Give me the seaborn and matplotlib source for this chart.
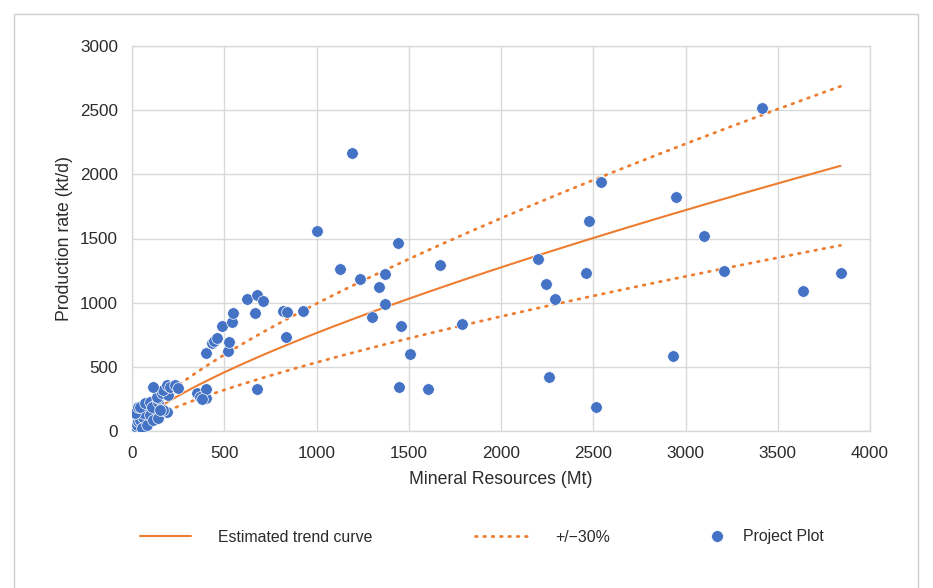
import numpy as np
import pandas as pd
import matplotlib
matplotlib.use("Agg")
import matplotlib.pyplot as plt
from matplotlib.lines import Line2D
from matplotlib.patches import Rectangle
import seaborn as sns

# Project data: mineral resources (Mt) vs production rate (kt/d)
resources_mt = [
    2, 8, 15, 25, 30, 43, 52, 61, 61, 16, 34, 43, 70, 98, 80, 98, 115, 143,
    125, 107, 143, 143, 134, 161, 197, 170, 188, 206, 233, 251, 188, 170, 112, 152,
    350, 369, 401, 401, 380, 401, 432, 444, 459, 486, 519, 528, 540, 549, 622,
    667, 679, 708, 679, 820, 838, 835, 929,
    1000, 1127, 1190, 1236, 1303, 1337, 1371, 1371, 1440, 1445, 1458, 1507, 1606,
    1669, 1790, 2202, 2244, 2262, 2293, 2459, 2479, 2513, 2540,
    2934, 2947, 3102, 3210, 3413, 3635, 3845,
]
production_ktd = [
    5, 20, 40, 47, 80, 86, 21, 112, 140, 138, 189, 189, 215, 228, 47, 125, 86, 99,
    202, 189, 228, 254, 267, 293, 280, 319, 358, 345, 358, 332, 150, 164, 345, 160,
    298, 267, 259, 329, 250, 610, 683, 703, 727, 820, 623, 696, 846, 921, 1028,
    916, 1059, 1012, 325, 937, 924, 735, 937,
    1560, 1259, 2170, 1181, 888, 1124, 1223, 991, 1462, 345, 820, 597, 325,
    1290, 831, 1337, 1145, 421, 1028, 1228, 1638, 189, 1942,
    587, 1825, 1521, 1248, 2513, 1093, 1228,
]

# Power-law trend: rate = a * resources ** b, with a +/-30% band
trend_a = 4.6
trend_b = 0.74
band = 0.30
trend_x_max = 3840

x_ticks = [0, 500, 1000, 1500, 2000, 2500, 3000, 3500, 4000]
y_ticks = [0, 500, 1000, 1500, 2000, 2500, 3000]

blue = "#4472C4"
orange = "#ED7D31"
grid_c = "#D9D9D9"
text_c = "#2B2B2B"

sns.set_theme(style="white")
plt.rcParams["font.family"] = ["Liberation Sans", "DejaVu Sans"]

fig = plt.figure(figsize=(9.33, 5.88), dpi=100)
ax = fig.add_axes([132 / 933, 1 - 431 / 588, (870 - 132) / 933, (431 - 46) / 588])

# outer chart border
fig.patches.append(Rectangle((14 / 933, -0.05), (918 - 14) / 933, 1.05 - 14 / 588,
                             transform=fig.transFigure, fill=False,
                             edgecolor="#D0D0D0", linewidth=1.0))

points = pd.DataFrame({"resources": resources_mt, "rate": production_ktd})

tx = np.linspace(1, trend_x_max, 400)
ty = trend_a * tx ** trend_b
trend = pd.DataFrame({"x": tx, "trend": ty,
                      "upper": ty * (1 + band), "lower": ty * (1 - band)})

sns.lineplot(data=trend, x="x", y="trend", ax=ax, color=orange, linewidth=1.5)
for col in ("upper", "lower"):
    sns.lineplot(data=trend, x="x", y=col, ax=ax, color=orange, linewidth=2.0,
                 linestyle=(0, (0.6, 2.4)), dash_capstyle="round")
sns.scatterplot(data=points, x="resources", y="rate", ax=ax, color=blue,
                s=70, edgecolor="white", linewidth=0.5, zorder=3)

ax.set_xlim(0, 4000)
ax.set_ylim(0, 3000)
ax.set_xticks(x_ticks)
ax.set_yticks(y_ticks)
ax.grid(True, color=grid_c, linewidth=1.0)
ax.set_axisbelow(True)
for s in ax.spines.values():
    s.set_color(grid_c)
    s.set_linewidth(1.0)
ax.tick_params(axis="both", length=0, labelsize=12.3, labelcolor=text_c)
ax.tick_params(axis="x", pad=11)
ax.tick_params(axis="y", pad=10)
ax.set_xlabel("Mineral Resources (Mt)", fontsize=12.7, color=text_c, labelpad=7)
ax.set_ylabel("Production rate (kt/d)", fontsize=12.7, color=text_c, labelpad=5)

# legend entries laid out below the chart
ly = 1 - 537 / 588
common = dict(frameon=False, fontsize=11.4, borderpad=0, borderaxespad=0,
              loc="center left", labelcolor=text_c)
fig.legend([Line2D([], [], color=orange, linewidth=1.5)], ["Estimated trend curve"],
           bbox_to_anchor=(140 / 933, ly), handlelength=3.2, handletextpad=1.7, **common)
fig.legend([Line2D([], [], color=orange, linewidth=2.0, linestyle=(0, (0.6, 2.4)),
                   dash_capstyle="round")], ["+/\u221230%"],
           bbox_to_anchor=(475 / 933, ly), handlelength=3.5, handletextpad=1.55, **common)
fig.legend([Line2D([], [], color=blue, marker="o", linestyle="none", markersize=8.5,
                   markeredgecolor="white", markeredgewidth=0.5)], ["Project Plot"],
           bbox_to_anchor=(710 / 933, ly), handlelength=0.9, handletextpad=1.2, **common)

fig.savefig("out.png", dpi=100, facecolor="white")
